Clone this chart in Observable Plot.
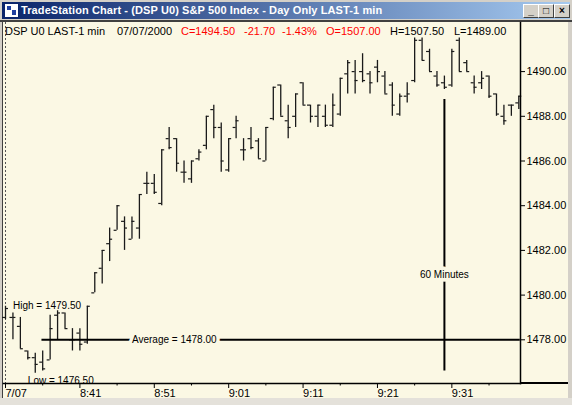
<!DOCTYPE html>
<html><head><meta charset="utf-8">
<script src="https://cdn.jsdelivr.net/npm/d3@7"></script>
<script src="https://cdn.jsdelivr.net/npm/@observablehq/plot@0.6"></script>
<style>
body{margin:0;width:572px;height:405px;overflow:hidden;background:#d4d0c8;font-family:"Liberation Sans",Arial,sans-serif;position:relative;}
#titlebar{position:absolute;left:2px;top:2px;width:568px;height:17px;background:linear-gradient(to right,#0a246a,#a6caf0);}
#titletext{position:absolute;left:19px;top:2px;color:#fff;font-weight:bold;font-size:11px;letter-spacing:0.1px;white-space:nowrap;line-height:13px;}
#icon{position:absolute;left:2px;top:1px;width:13px;height:13px;background:#fff;border:1px solid #0a246a;}
#icon i{position:absolute;background:#2040a0;}
.btn{position:absolute;top:2px;width:14px;height:12px;background:#d4d0c8;border-top:1px solid #fff;border-left:1px solid #fff;border-right:1px solid #404040;border-bottom:1px solid #404040;font-size:10px;line-height:12px;text-align:center;color:#000;font-weight:bold;}
#chartwrap{position:absolute;left:3px;top:22px;width:565px;height:376px;}
#edge{position:absolute;left:0;top:20px;width:572px;height:2px;background:#404040;}
#leftedge{position:absolute;left:2px;top:20px;width:1px;height:380px;background:#404040;}
#header{position:absolute;left:0;top:25px;width:520px;height:13px;font-size:11px;line-height:13px;white-space:nowrap;}
#header span{position:absolute;top:0;}
.red{color:#ff0000;}
#axisext{position:absolute;left:520px;top:382px;width:48px;height:1.5px;background:#000;}
#bottom{position:absolute;left:0;top:398px;width:572px;height:7px;background:#e4e1da;}
</style></head>
<body>
<div id="titlebar">
  <div id="icon"><i style="left:2px;top:2px;width:4px;height:4px"></i><i style="left:7px;top:6px;width:4px;height:5px"></i></div>
  <div id="titletext">TradeStation Chart - (DSP U0) S&amp;P 500 Index - Day Only LAST-1 min</div>
  <div class="btn" style="left:521px">_</div>
  <div class="btn" style="left:536px">□</div>
  <div class="btn" style="left:552px">×</div>
</div>
<div id="edge"></div>
<div id="leftedge"></div>
<div id="chartwrap"></div>
<div id="header">
  <span style="left:5px">DSP U0 LAST-1 min</span>
  <span style="left:117px">07/07/2000</span>
  <span class="red" style="left:181px">C=1494.50</span>
  <span class="red" style="left:244px">-21.70</span>
  <span class="red" style="left:282px">-1.43%</span>
  <span class="red" style="left:326px">O=1507.00</span>
  <span style="left:390px">H=1507.50</span>
  <span style="left:454px">L=1489.00</span>
</div>
<div id="axisext"></div>
<div id="bottom"></div>
<script>
// 1-minute OHLC bars, 8:31 .. 9:40 (index 0 = 8:31)
const opens  = [1479.0,1479.0,1478.6,1477.5,1477.2,1477.0,1477.1,1479.1,1479.2,1478.0,
                1478.3,1477.9,1480.1,1481.2,1482.3,1482.9,1483.3,1482.5,1483.0,1485.0,
                1485.0,1484.1,1487.0,1487.0,1485.5,1485.2,1486.1,1486.7,1488.3,1487.5,
                1485.6,1487.5,1486.5,1487.0,1486.9,1486.0,1487.9,1489.4,1487.8,1488.0,
                1489.5,1488.5,1488.0,1488.0,1487.6,1488.1,1489.9,1490.0,1490.0,1489.9,
                1490.2,1489.8,1489.4,1488.1,1488.9,1489.6,1491.4,1490.9,1489.8,1489.5,
                1489.4,1491.4,1490.4,1489.5,1489.5,1489.8,1489.0,1488.0,1488.5,1488.6];
const highs  = [1479.5,1479.2,1479.0,1477.5,1477.4,1477.5,1479.1,1479.3,1479.2,1478.5,
                1478.5,1479.5,1481.0,1482.0,1483.0,1484.0,1483.5,1483.5,1484.5,1485.5,
                1485.4,1486.5,1487.5,1487.0,1486.0,1486.0,1486.5,1488.0,1488.5,1487.7,
                1487.0,1488.0,1487.0,1487.5,1487.0,1487.5,1489.3,1489.4,1488.5,1489.0,
                1489.5,1488.5,1488.5,1488.5,1489.0,1489.7,1490.5,1490.5,1490.8,1490.0,
                1490.5,1490.0,1489.5,1489.0,1489.5,1491.5,1491.5,1491.0,1490.0,1489.8,
                1491.0,1491.5,1490.5,1489.8,1490.0,1489.8,1489.0,1488.5,1488.5,1488.9];
const lows   = [1478.9,1478.0,1477.6,1477.1,1476.5,1476.6,1477.1,1478.0,1478.5,1477.5,
                1477.5,1477.8,1480.1,1480.5,1481.5,1482.9,1482.0,1482.5,1482.5,1484.5,
                1484.5,1484.0,1486.5,1485.5,1485.0,1485.0,1486.0,1486.5,1487.0,1485.5,
                1485.5,1487.0,1486.0,1486.5,1486.1,1486.0,1487.8,1488.0,1487.0,1487.5,
                1488.5,1487.7,1487.5,1487.5,1487.5,1488.0,1489.0,1489.0,1489.5,1489.0,
                1489.5,1489.0,1488.0,1488.0,1488.6,1489.5,1490.5,1490.0,1489.3,1489.2,
                1489.3,1490.0,1490.0,1489.0,1489.2,1488.8,1488.0,1487.6,1488.0,1488.3];
const closes = [1479.4,1479.0,1477.6,1477.2,1476.9,1476.7,1478.5,1479.2,1478.5,1478.0,
                1477.8,1479.5,1481.0,1482.0,1482.5,1484.0,1483.0,1483.3,1484.5,1485.0,
                1484.6,1486.5,1486.6,1485.9,1485.5,1486.0,1486.4,1488.0,1487.5,1486.0,
                1487.0,1487.8,1486.5,1486.6,1486.1,1487.5,1489.3,1488.0,1487.5,1489.0,
                1488.5,1488.0,1488.5,1487.6,1488.5,1489.7,1490.4,1489.6,1489.6,1489.5,
                1490.0,1489.0,1488.5,1488.9,1489.0,1491.4,1490.5,1490.0,1489.4,1489.3,
                1490.9,1490.0,1490.0,1489.3,1489.7,1488.9,1488.1,1487.8,1488.5,1488.9];

const yTicks = [1478, 1480, 1482, 1484, 1486, 1488, 1490];
const xMajor = [0, 10, 20, 30, 40, 50, 60];
const xMajorLabels = ["7/07", "8:41", "8:51", "9:01", "9:11", "9:21", "9:31"];
const xMinor = [5, 15, 25, 35, 45, 55, 65];

const sessionStart = [0];
const openingHigh = 1479.5, openingLow = 1476.5, average = 1478.0;
const avgStart = 4.9, avgEnd = 69.2;
const markerBar = 59, markerTop = 1488.75, markerBottom = 1476.6, markerLabelY = 1480.9;
const highLabelBar = 1, lowLabelBar = 3, avgLabelBar = 17;

const bars = opens.map((o, i) => ({i, o, h: highs[i], l: lows[i], c: closes[i]}));
const cream = "#fbf8e4";
const ink = "#1a1a1a";

const chart = Plot.plot({
  width: 565, height: 376,
  marginLeft: 0, marginRight: 48, marginTop: 0, marginBottom: 15,
  style: {background: cream, fontFamily: "'Liberation Sans', Arial, sans-serif", fontSize: "11px", overflow: "visible", color: "#000"},
  x: {type: "linear", domain: [0, 69], range: [2, 515.3]},
  y: {domain: [1478, 1490], range: [317.3, 49.1]},
  marks: [
    Plot.ruleX(sessionStart, {stroke: "#555", strokeDasharray: "2,2"}),
    Plot.ruleX(bars, {x: "i", y1: "l", y2: "h", stroke: ink, strokeWidth: 1.3}),
    Plot.ruleY(bars, {y: "o", x1: d => d.i - 0.4, x2: "i", stroke: ink, strokeWidth: 1.2}),
    Plot.ruleY(bars, {y: "c", x1: "i", x2: d => d.i + 0.4, stroke: ink, strokeWidth: 1.2}),
    Plot.ruleY([{y: average, x1: avgStart, x2: avgEnd}], {y: "y", x1: "x1", x2: "x2", stroke: "#000", strokeWidth: 2}),
    Plot.ruleX([{x: markerBar, y1: markerBottom, y2: markerTop}], {x: "x", y1: "y1", y2: "y2", stroke: "#000", strokeWidth: 2}),
    Plot.text([{x: highLabelBar, y: openingHigh, t: "High = " + openingHigh.toFixed(2)}], {x: "x", y: "y", text: "t", textAnchor: "start", fontSize: 10, fill: "#000"}),
    Plot.text([{x: lowLabelBar, y: openingLow, t: "Low = " + openingLow.toFixed(2)}], {x: "x", y: "y", text: "t", textAnchor: "start", dy: 7, fontSize: 10, fill: "#000"}),
    Plot.text([{x: avgLabelBar, y: average, t: "Average = " + average.toFixed(2)}], {x: "x", y: "y", text: "t", textAnchor: "start", fontSize: 10, fill: "#000", stroke: cream, strokeWidth: 7}),
    Plot.text([{x: markerBar, y: markerLabelY, t: "60 Minutes"}], {x: "x", y: "y", text: "t", textAnchor: "middle", fontSize: 10, fill: "#000", stroke: cream, strokeWidth: 7}),
    Plot.frame({anchor: "right", stroke: "#000", strokeWidth: 1.5}),
    Plot.frame({anchor: "bottom", stroke: "#000", strokeWidth: 1.5}),
    Plot.axisY({anchor: "right", ticks: yTicks, tickSize: 4, tickPadding: 2, tickFormat: d => d.toFixed(2), fontSize: 11}),
    Plot.axisX({anchor: "bottom", ticks: xMajor, tickSize: 5, tickPadding: 1, tickFormat: d => xMajorLabels[xMajor.indexOf(d)], textAnchor: "start", fontSize: 11}),
    Plot.axisX({anchor: "bottom", ticks: xMinor, tickSize: 2.5, tickFormat: () => ""})
  ]
});
document.getElementById("chartwrap").appendChild(chart);
</script>
</body></html>
